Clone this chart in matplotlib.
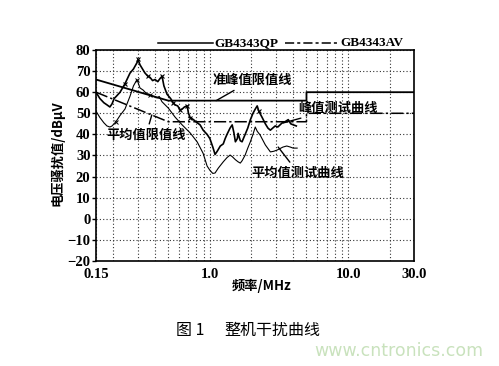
import matplotlib
matplotlib.use("Agg")
import matplotlib.pyplot as plt
from matplotlib.lines import Line2D
from matplotlib.ticker import FixedLocator, NullFormatter

plt.rcParams['font.family'] = ['Liberation Serif', 'Noto Sans CJK SC', 'DejaVu Sans']

# 限值线 (GB4343)
qp_f = [0.15, 0.5, 5, 5, 30]
qp_v = [66, 56, 56, 60, 60]
av_f = [0.15, 0.5, 5, 5, 30]
av_v = [60, 46, 46, 50, 50]

# 峰值测试曲线
pk_f = [0.15, 0.16, 0.171, 0.18, 0.189, 0.196, 0.203, 0.21, 0.224, 0.243, 0.264,
        0.28, 0.297, 0.302, 0.312, 0.329, 0.34, 0.357, 0.369, 0.385, 0.401, 0.42,
        0.436, 0.451, 0.465, 0.49, 0.52, 0.542, 0.56, 0.585, 0.609, 0.63, 0.655,
        0.686, 0.70, 0.72, 0.76, 0.81, 0.85, 0.894, 0.955, 1.0, 1.05, 1.09, 1.13,
        1.19, 1.25, 1.29, 1.33, 1.40, 1.45, 1.49, 1.53, 1.58, 1.60, 1.66, 1.71,
        1.76, 1.80, 1.88, 1.96, 2.05, 2.13, 2.20, 2.26, 2.39, 2.52, 2.63, 2.74,
        2.85, 2.97, 3.1, 3.34, 3.5, 3.69, 3.85, 4.02, 4.22]
pk_v = [60, 57, 55, 54, 53, 54.5, 57, 58, 60, 64, 69,
        71, 74, 75.5, 73, 70.5, 69, 67.5, 67, 65.5, 66, 65,
        66.5, 67.5, 63, 59, 57, 55, 54, 53.5, 51.6, 52, 53,
        53.5, 50, 48, 47, 45.5, 44.5, 42, 40, 38, 34, 30.5, 32,
        34.5, 35.5, 38, 40, 43, 44.5, 41, 36.5, 38, 40.5, 37, 36.5,
        38.5, 40, 43, 46.8, 50, 52, 53.5, 51, 48, 45, 43, 42,
        43, 44, 43.5, 45.5, 46, 47, 45, 44.5, 44]

# 平均值测试曲线
av_mf = [0.15, 0.16, 0.171, 0.18, 0.189, 0.196, 0.209, 0.224, 0.243, 0.264, 0.28,
         0.297, 0.312, 0.329, 0.34, 0.357, 0.369, 0.39, 0.415, 0.43, 0.45, 0.50,
         0.56, 0.63, 0.72, 0.81, 0.894, 0.955, 1.0, 1.05, 1.09, 1.15, 1.25, 1.33,
         1.40, 1.45, 1.53, 1.60, 1.66, 1.71, 1.80, 1.88, 1.96, 2.05, 2.13, 2.20,
         2.31, 2.52, 2.74, 2.9, 3.07, 3.38, 3.6, 3.82, 4.0, 4.28]
av_mv = [51, 48, 45.5, 44, 43.5, 44, 46, 49, 52, 58, 63,
         66, 62, 61, 60, 59, 58.7, 58, 57.3, 58, 55.5, 52.5,
         48.2, 44.5, 40.7, 36.4, 31, 25, 23, 21.5, 21.7, 24, 27, 29,
         30.2, 29.5, 28, 27, 26.4, 27.5, 30.2, 33.5, 36.4, 40, 43.5, 41.5,
         39.7, 35, 31.7, 32, 32.6, 34, 34.5, 34, 33.5, 33.5]

x_ticks = [0.15, 1.0, 10.0, 30.0]
x_ticklabels = ['0.15', '1.0', '10.0', '30.0']
y_ticks = list(range(-20, 81, 10))

fig = plt.figure(figsize=(4.99, 3.66), dpi=100)
ax = fig.add_axes([0.1924, 0.2869, 0.6373, 0.5765])

ax.plot(qp_f, qp_v, color='black', lw=1.3)
ax.plot(av_f, av_v, color='black', lw=1.1, linestyle=(0, (8, 2, 1.5, 2)))
ax.plot(pk_f, pk_v, color='black', lw=1.2, marker='x', markersize=3, mew=0.8,
        markevery=[9, 13, 17, 23, 27, 30, 33, 35, 64])
ax.plot(av_mf, av_mv, color='black', lw=0.8, marker='x', markersize=2.5, mew=0.7,
        markevery=[6, 11, 16])

ax.set_xscale('log')
ax.set_xlim(0.15, 30)
ax.set_ylim(-20, 80)
ax.xaxis.set_major_locator(FixedLocator(x_ticks))
ax.xaxis.set_minor_locator(FixedLocator([0.2, 0.3, 0.4, 0.5, 0.6, 0.7, 0.8, 0.9,
                                         2, 3, 4, 5, 6, 7, 8, 9, 20]))
ax.xaxis.set_minor_formatter(NullFormatter())
ax.set_xticklabels(x_ticklabels, fontweight='bold', fontsize=10.5)
ax.set_yticks(y_ticks)
ax.set_yticklabels([str(v).replace('-', '\u2212') for v in y_ticks],
                   fontweight='bold', fontsize=10.5)
ax.tick_params(axis='x', which='both', length=0, pad=5)
ax.tick_params(axis='y', length=3, width=1, pad=1)
ax.grid(True, which='both', linestyle=(0, (1, 2)), color='#333333', lw=0.8)
for s in ax.spines.values():
    s.set_linewidth(1.2)

ax.set_ylabel('电压骚扰值/dBμV', family=['Noto Sans CJK SC', 'Liberation Serif'],
              fontweight='bold', fontsize=9.5)
ax.yaxis.set_label_coords(-0.1, 0.51)
ax.set_xlabel('频率/MHz', family=['Noto Sans CJK SC', 'Liberation Serif'],
              fontweight='bold', fontsize=9.5)
ax.xaxis.set_label_coords(0.522, -0.085)

cjk = dict(family=['Noto Sans CJK SC'], fontweight='bold', fontsize=9.5,
           ha='center', va='center')
lead = dict(arrowstyle='-', color='black', lw=1, shrinkA=1, shrinkB=0)
ax.annotate('准峰值限值线', xy=(1.11, 56), xytext=(2.03, 65.8), arrowprops=lead, **cjk)
ax.annotate('峰值测试曲线', xy=(3.38, 45.4), xytext=(8.5, 52.5), arrowprops=lead, **cjk)
ax.annotate('平均值测试曲线', xy=(3.12, 34), xytext=(4.36, 21.7), arrowprops=lead, **cjk)
ax.annotate('平均值限值线', xy=(0.38, 49.2), xytext=(0.345, 39.7), arrowprops=lead, **cjk)

# 图例
fig.add_artist(Line2D([0.3166, 0.4269], [0.8825, 0.8825], color='black', lw=1.1))
fig.text(0.429, 0.8825, 'GB4343QP', fontweight='bold', fontsize=9.5, va='center')
fig.add_artist(Line2D([0.571, 0.681], [0.8825, 0.8825], color='black', lw=1.1,
                      linestyle=(0, (6, 2, 2, 2))))
fig.text(0.683, 0.8825, 'GB4343AV', fontweight='bold', fontsize=9.5, va='center')

fig.text(0.352, 0.098, '图 1', family=['Noto Sans CJK SC'], fontsize=11.5, va='center')
fig.text(0.45, 0.098, '整机干扰曲线', family=['Noto Sans CJK SC'], fontsize=11.5,
         va='center')
fig.text(0.63, 0.04, 'www.cntronics.com', family=['DejaVu Sans'], fontsize=12.5,
         color='#c9e2bd', va='center')

fig.savefig('out.png', dpi=100)
